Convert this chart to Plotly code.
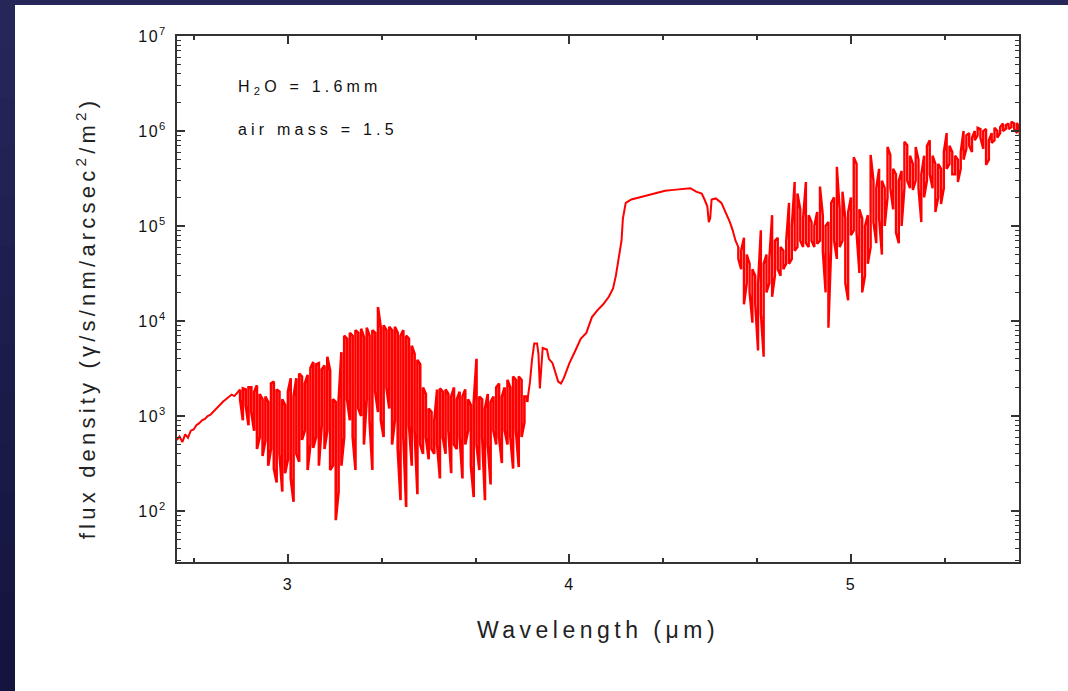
import plotly.graph_objects as go

# ---------------- data ----------------
# smooth start of the spectrum
wl_a = [2.606, 2.615, 2.625, 2.635, 2.645, 2.655, 2.665, 2.675, 2.685, 2.695,
        2.705, 2.715, 2.725, 2.74, 2.75, 2.76, 2.77, 2.78, 2.79, 2.80,
        2.81, 2.82]
flux_a = [560, 610, 530, 640, 590, 700, 720, 800, 840, 900,
          930, 1000, 1030, 1150, 1220, 1330, 1420, 1500, 1600, 1680,
          1620, 1760]

# dense absorption band 2.83-3.85 um: max / min flux in each 0.01 um bin
wl_b = [2.83, 2.84, 2.85, 2.86, 2.87, 2.88, 2.89, 2.90, 2.91, 2.92,
        2.93, 2.94, 2.95, 2.96, 2.97, 2.98, 2.99, 3.00, 3.01, 3.02,
        3.03, 3.04, 3.05, 3.06, 3.07, 3.08, 3.09, 3.10, 3.11, 3.12,
        3.13, 3.14, 3.15, 3.16, 3.17, 3.18, 3.19, 3.20, 3.21, 3.22,
        3.23, 3.24, 3.25, 3.26, 3.27, 3.28, 3.29, 3.30, 3.31, 3.32,
        3.33, 3.34, 3.35, 3.36, 3.37, 3.38, 3.39, 3.40, 3.41, 3.42,
        3.43, 3.44, 3.45, 3.46, 3.47, 3.48, 3.49, 3.50, 3.51, 3.52,
        3.53, 3.54, 3.55, 3.56, 3.57, 3.58, 3.59, 3.60, 3.61, 3.62,
        3.63, 3.64, 3.65, 3.66, 3.67, 3.68, 3.69, 3.70, 3.71, 3.72,
        3.73, 3.74, 3.75, 3.76, 3.77, 3.78, 3.79, 3.80, 3.81, 3.82,
        3.83, 3.84, 3.85]
up_b = [1900, 1950, 1900, 2000, 2000, 1800, 2100, 1700, 1500, 1600,
        1400, 2200, 2300, 1900, 1800, 1500, 1300, 1800, 2500, 1600,
        2500, 2800, 2600, 2200, 2700, 3200, 3700, 3500, 3600, 3100,
        3400, 4200, 3000, 1500, 1400, 1450, 4700, 7000, 6500, 7500,
        7000, 8000, 7500, 8300, 6800, 8500, 7000, 8000, 7500, 14000,
        8500, 9000, 8000, 8700, 8000, 8700, 7500, 7000, 8000, 7000,
        6500, 5500, 4500, 3900, 3500, 2000, 1700, 1200, 1100, 900,
        1900, 1950, 1800, 1900, 1700, 1600, 2000, 1500, 1800, 1600,
        1900, 1500, 1300, 1400, 4000, 1600, 1500, 1200, 1700, 1400,
        1600, 2000, 2200, 1600, 2000, 2400, 2000, 2600, 2400, 2600,
        2400, 1600, 1600]
lo_b = [1500, 900, 1300, 800, 1100, 700, 450, 600, 380, 550,
        300, 450, 280, 200, 400, 160, 250, 350, 220, 125,
        400, 330, 560, 700, 270, 500, 460, 600, 300, 800,
        450, 700, 270, 300, 80, 160, 300, 600, 1500, 900,
        600, 270, 1200, 1000, 500, 1500, 900, 270, 1800, 1100,
        900, 600, 2000, 1200, 500, 900, 450, 130, 600, 110,
        800, 300, 700, 150, 500, 400, 600, 350, 450, 400,
        500, 220, 600, 400, 700, 250, 500, 450, 600, 220,
        500, 700, 300, 140, 500, 270, 600, 130, 500, 190,
        700, 500, 600, 320, 700, 500, 600, 280, 700, 290,
        600, 850, 1400]

# the 4 um window (smooth part)
wl_d = [3.86, 3.867, 3.875, 3.885, 3.89, 3.895, 3.90, 3.905, 3.92, 3.927,
        3.94, 3.95, 3.96, 3.97, 3.98, 3.99, 4.00, 4.02, 4.04, 4.06,
        4.08, 4.10, 4.12, 4.14, 4.155, 4.165, 4.175, 4.185, 4.19, 4.20,
        4.22, 4.25, 4.28, 4.31, 4.34, 4.37, 4.40, 4.43, 4.45, 4.47,
        4.48, 4.49, 4.495, 4.50, 4.505, 4.52, 4.54, 4.55, 4.56, 4.57,
        4.58, 4.59]
flux_d = [2300, 3900, 5800, 5800, 4500, 1950, 3500, 5200, 5000, 4000,
          3600, 2800, 2300, 2200, 2500, 3000, 3600, 4800, 6500, 7500,
          11000, 13000, 15000, 18000, 22000, 30000, 45000, 70000, 120000, 175000,
          190000, 200000, 210000, 225000, 235000, 240000, 245000, 250000, 230000, 220000,
          190000, 160000, 110000, 120000, 190000, 195000, 175000, 150000, 125000, 110000,
          90000, 70000]

# dense band 4.60-5.60 um: max / min flux in each 0.01 um bin
wl_f = [4.60, 4.61, 4.62, 4.63, 4.64, 4.65, 4.66, 4.67, 4.68, 4.69,
        4.70, 4.71, 4.72, 4.73, 4.74, 4.75, 4.76, 4.77, 4.78, 4.79,
        4.80, 4.81, 4.82, 4.83, 4.84, 4.85, 4.86, 4.87, 4.88, 4.89,
        4.90, 4.91, 4.92, 4.93, 4.94, 4.95, 4.96, 4.97, 4.98, 4.99,
        5.00, 5.01, 5.02, 5.03, 5.04, 5.05, 5.06, 5.07, 5.08, 5.09,
        5.10, 5.11, 5.12, 5.13, 5.14, 5.15, 5.16, 5.17, 5.18, 5.19,
        5.20, 5.21, 5.22, 5.23, 5.24, 5.25, 5.26, 5.27, 5.28, 5.29,
        5.30, 5.31, 5.32, 5.33, 5.34, 5.35, 5.36, 5.37, 5.38, 5.39,
        5.40, 5.41, 5.42, 5.43, 5.44, 5.45, 5.46, 5.47, 5.48, 5.49,
        5.50, 5.51, 5.52, 5.53, 5.54, 5.55, 5.56, 5.57, 5.58, 5.59,
        5.60]
up_f = [60000, 55000, 75000, 50000, 40000, 35000, 30000, 25000, 90000, 40000,
        50000, 45000, 130000, 70000, 75000, 60000, 55000, 70000, 175000, 100000,
        290000, 220000, 150000, 120000, 290000, 130000, 110000, 100000, 140000, 260000,
        130000, 100000, 110000, 175000, 200000, 420000, 150000, 230000, 120000, 140000,
        200000, 530000, 450000, 150000, 120000, 100000, 130000, 560000, 300000, 250000,
        400000, 300000, 250000, 680000, 560000, 400000, 350000, 300000, 380000, 770000,
        710000, 550000, 450000, 680000, 500000, 350000, 550000, 700000, 800000, 550000,
        450000, 450000, 400000, 600000, 950000, 700000, 600000, 550000, 500000, 600000,
        1000000, 900000, 950000, 850000, 1000000, 1080000, 1050000, 1000000, 1050000, 800000,
        950000, 1080000, 1000000, 1100000, 1200000, 1150000, 1200000, 1250000, 1200000, 1220000,
        1000000]
lo_f = [45000, 35000, 15000, 25000, 20000, 9600, 15000, 4900, 12000, 4200,
        20000, 25000, 18000, 30000, 35000, 30000, 35000, 40000, 40000, 45000,
        55000, 60000, 70000, 60000, 66000, 60000, 70000, 60000, 65000, 70000,
        55000, 20000, 8500, 60000, 70000, 45000, 60000, 70000, 25000, 16500,
        80000, 90000, 85000, 32000, 20000, 30000, 40000, 60000, 110000, 66000,
        120000, 50000, 100000, 200000, 250000, 150000, 85000, 66000, 100000, 250000,
        300000, 250000, 240000, 300000, 250000, 110000, 200000, 300000, 350000, 250000,
        140000, 200000, 170000, 250000, 400000, 450000, 350000, 350000, 290000, 400000,
        500000, 650000, 700000, 600000, 800000, 900000, 850000, 650000, 440000, 500000,
        750000, 800000, 850000, 950000, 1000000, 1050000, 1050000, 1100000, 1050000, 950000,
        900000]

x_tick_vals = [3, 4, 5]
x_tick_text = ["3", "4", "5"]
y_tick_vals = [100, 1000, 10000, 100000, 1000000, 10000000]
y_tick_text = ["10<sup>2</sup>", "10<sup>3</sup>", "10<sup>4</sup>",
               "10<sup>5</sup>", "10<sup>6</sup>", "10<sup>7</sup>"]

# ---------------- figure ----------------
W, H = 1068, 691
ML, MR, MT, MB = 177, 49, 36, 129
PW, PH = W - ML - MR, H - MT - MB


def px_x(px):
    return (px - ML) / PW


def px_y(py):
    return (H - MB - py) / PH


def envelope(wl, up, lo):
    """min-max line: a vertical stroke per bin, alternating direction."""
    xs, ys = [], []
    for i, (w, u, l) in enumerate(zip(wl, up, lo)):
        xs += [w, w]
        ys += [u, l] if i % 2 == 0 else [l, u]
    return xs, ys


RED = "#ff0000"
fig = go.Figure()


def add_seg(x, y, width):
    fig.add_trace(go.Scatter(x=x, y=y, mode="lines",
                             line=dict(color=RED, width=width),
                             showlegend=False, hoverinfo="skip"))


xb, yb = envelope(wl_b, up_b, lo_b)
xf, yf = envelope(wl_f, up_f, lo_f)
add_seg(wl_a + xb[:1], flux_a + yb[:1], 2)
add_seg(xb, yb, 2.6)
add_seg(xb[-1:] + wl_d + xf[:1], yb[-1:] + flux_d + yf[:1], 2)
add_seg(xf, yf, 2.4)

minor_y = [m * 10 ** e for e in range(1, 7) for m in range(2, 10) if m * 10 ** e >= 30]

AX = "#333333"
FONT = "Liberation Sans, Arial, sans-serif"

fig.update_xaxes(
    range=[2.606, 5.597], tickmode="array", tickvals=x_tick_vals, ticktext=x_tick_text,
    ticks="inside", ticklen=8, tickwidth=1.5, tickcolor=AX,
    showline=True, linecolor=AX, linewidth=2, mirror="ticks",
    showgrid=False, zeroline=False, ticklabelstandoff=7,
    tickfont=dict(family=FONT, size=16, color="#111"),
    minor=dict(ticks="inside", ticklen=4, tickwidth=1.5, tickcolor=AX,
               dtick=1 / 3, tick0=3, showgrid=False),
    title=dict(text="Wavelength (μm)", font=dict(family=FONT, size=23, color="#222"),
               standoff=30),
)
fig.update_yaxes(
    type="log", range=[1.463, 7], tickmode="array", tickvals=y_tick_vals, ticktext=y_tick_text,
    ticks="inside", ticklen=8, tickwidth=1.5, tickcolor=AX,
    showline=True, linecolor=AX, linewidth=2, mirror="ticks",
    showgrid=False, zeroline=False, ticklabelstandoff=5,
    tickfont=dict(family=FONT, size=16, color="#111"),
    minor=dict(ticks="inside", ticklen=4, tickwidth=1.2, tickcolor=AX,
               tickvals=minor_y, showgrid=False),
)

# dark navy frame of the slide (left and top strips, vertical gradient)
shapes = []
n = 14
top_c = (38, 38, 89)
bot_c = (20, 20, 62)
for i in range(n):
    t = i / (n - 1)
    c = tuple(round(top_c[k] + (bot_c[k] - top_c[k]) * t) for k in range(3))
    y0 = H * i / n
    y1 = H * (i + 1) / n
    shapes.append(dict(type="rect", xref="paper", yref="paper",
                       x0=px_x(0), x1=px_x(15), y0=px_y(y1 + 0.5), y1=px_y(y0 - 0.5),
                       fillcolor="rgb(%d,%d,%d)" % c, line=dict(width=0), layer="above"))
shapes.append(dict(type="rect", xref="paper", yref="paper",
                   x0=px_x(0), x1=px_x(W), y0=px_y(5), y1=px_y(0),
                   fillcolor="rgb(38,38,89)", line=dict(width=0), layer="above"))

annotations = [
    dict(text="flux density (γ/s/nm/arcsec<sup>2</sup>/m<sup>2</sup>)",
         xref="paper", yref="paper", x=px_x(86), y=px_y(318), textangle=-90,
         xanchor="center", yanchor="middle", showarrow=False,
         font=dict(family=FONT, size=22, color="#222")),
    dict(text="H<sub>2</sub>O = 1.6mm", xref="paper", yref="paper",
         x=px_x(236), y=px_y(88), xanchor="left", yanchor="middle", align="left",
         showarrow=False, font=dict(family=FONT, size=16, color="#111")),
    dict(text="air mass = 1.5", xref="paper", yref="paper",
         x=px_x(236), y=px_y(129), xanchor="left", yanchor="middle", align="left",
         showarrow=False, font=dict(family=FONT, size=16, color="#111")),
]

fig.update_layout(
    width=W, height=H, autosize=False,
    margin=dict(l=ML, r=MR, t=MT, b=MB, pad=0),
    paper_bgcolor="white", plot_bgcolor="white",
    showlegend=False, shapes=shapes, annotations=annotations,
    font=dict(family=FONT, color="#111"),
)

post = """
var st = document.createElement('style');
st.textContent = 'html,body{margin:0;padding:0} '
  + '.xtitle{letter-spacing:4.5px} '
  + '.annotation-text{letter-spacing:4.2px} '
  + '.xtick text, .ytick text{letter-spacing:1.5px}';
document.head.appendChild(st);
"""

fig.write_html("out.html", post_script=post, config={"displayModeBar": False})
